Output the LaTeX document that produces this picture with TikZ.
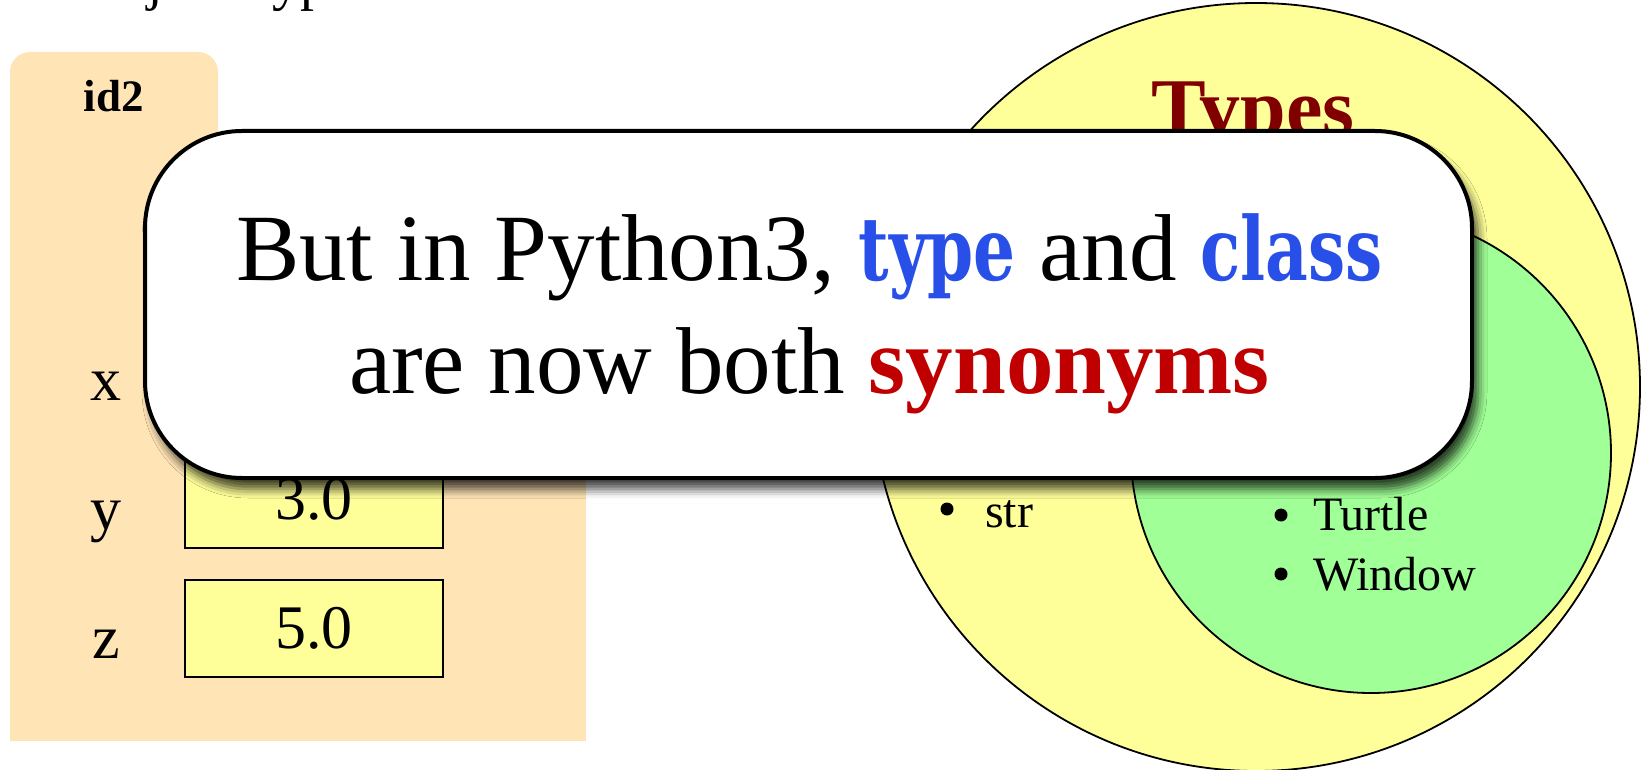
\documentclass[tikz,border=0pt]{standalone}
\usepackage{fontspec}
\setmainfont{Liberation Serif}
\newfontfamily\codefont[FakeStretch=0.75]{DejaVu Serif}
\usepackage{tikz}
\usetikzlibrary{positioning, shadows.blur}
\definecolor{cFrame}{RGB}{255,228,182}
\definecolor{cBox}{RGB}{255,255,153}
\definecolor{cGreen}{RGB}{160,255,150}
\definecolor{cBlue}{RGB}{40,80,232}
\definecolor{cRed}{RGB}{192,0,0}
\definecolor{cDark}{RGB}{128,0,0}
\newcommand{\px}[1]{\fontsize{#1}{#1}\selectfont}
\newcommand{\kw}[1]{{\codefont\bfseries\px{88}\color{cBlue}#1}}

\begin{document}
\begin{tikzpicture}[x=1pt, y=-1pt, inner sep=0pt, outer sep=0pt,
    valbox/.style={draw, line width=1.5pt, fill=cBox, minimum width=258pt, minimum height=97pt, font=\px{62}},
    varname/.style={font=\px{62}, anchor=base},
    bag/.style={circle, draw, line width=1.8pt},
    dot/.style={circle, fill=black, minimum size=13pt},
    item/.style={font=\px{48}, anchor=base west},
    note/.style={draw, line width=4pt, fill=white, rounded corners=97pt,
        minimum width=1327pt, minimum height=347pt,
        blur shadow={shadow xshift=6pt, shadow yshift=-11pt, shadow blur radius=9pt, shadow opacity=75}}]
    \useasboundingbox (0,0) rectangle (1642,770);

    % cut-off heading
    \node[font=\px{56}, anchor=base west] (head) at (79,0) {Object Types};

    % object folder
    \fill[cFrame, rounded corners=20pt] (10,52) rectangle (218,200);
    \fill[cFrame] (10,141) rectangle (586,741);
    \node[font=\bfseries\px{45}, anchor=base] (id) at (114,112) {id2};
    \foreach \n/\v/\yy in {x//370.5, y/3.0/499.5, z/5.0/628.5} {
        \node[valbox] (box\n) at (314,\yy) {\v};
        \node[varname] (var\n) at (106,\yy+30) {\n};
    }

    % types and classes
    \node[bag, fill=cBox, minimum size=768pt] (types) at (1256,387) {};
    \node[bag, fill=cGreen, minimum size=480pt] (classes) at (1371,453) {};
    \node[font=\bfseries\px{82}, text=cDark, anchor=base] (ttl) at (1253,136) {Types};
    \node[dot] (d1) at (947,509) {};
    \node[item] (str) at (985,527) {str};
    \node[dot] (d2) at (1281,515) {};
    \node[item] (turtle) at (1313,530) {Turtle};
    \node[dot] (d3) at (1281,574) {};
    \node[item] (window) at (1313,590) {Window};

    % the callout
    \node[note] (call) at (808.5,304.5) {};
    \node[font=\px{95}, anchor=base] (l1) at (809.5,280) {But in Python3, \kw{type} and \kw{class}};
    \node[font=\px{95}, anchor=base] (l2) at (809.5,393) {are now both {\bfseries\color{cRed}synonyms}};
\end{tikzpicture}
\end{document}
